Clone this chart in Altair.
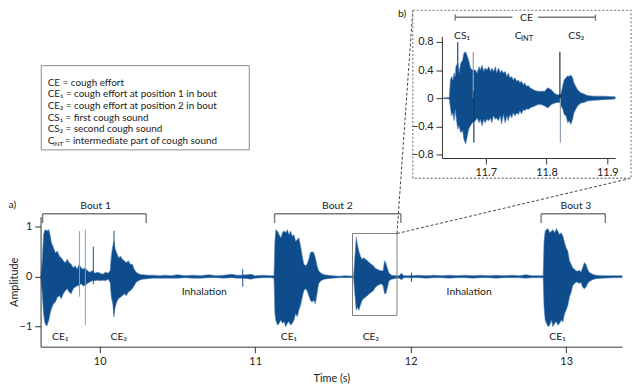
import altair as alt
import pandas as pd

FONT = "Lato"
DARK = "#0e4c8c"
LIGHT = "#7fa3c8"
AX = "#333333"
GRAY = "#7a7a7a"
TXT = "#222222"

wave_t = [9.622, 9.631, 9.639, 9.648, 9.660, 9.673, 9.681, 9.690, 9.703, 9.715, 9.728, 9.741, 9.753,
          9.766, 9.779, 9.791, 9.804, 9.817, 9.830, 9.842, 9.855, 9.868, 9.880, 9.893, 9.906, 9.918,
          9.935, 9.952, 9.969, 9.987, 10.003, 10.020, 10.037, 10.054, 10.067, 10.075, 10.084, 10.092,
          10.100, 10.109, 10.121, 10.134, 10.146, 10.159, 10.171, 10.184, 10.197, 10.210, 10.222,
          10.235, 10.256, 10.277, 10.310, 10.342, 10.388,
          10.42, 10.46, 10.50, 10.55, 10.60, 10.65, 10.70, 10.75, 10.80, 10.85, 10.88, 10.91, 10.95,
          10.972, 11.00, 11.05, 11.10, 11.121,
          11.127, 11.133, 11.144, 11.154, 11.165, 11.176, 11.186, 11.197, 11.207, 11.218, 11.228,
          11.239, 11.250, 11.260, 11.271, 11.281, 11.292, 11.303, 11.313, 11.324, 11.334, 11.345,
          11.355, 11.366, 11.377, 11.387, 11.398, 11.408, 11.423, 11.444, 11.466, 11.497, 11.540,
          11.580, 11.633,
          11.641, 11.650, 11.658, 11.667, 11.677, 11.688, 11.698, 11.709, 11.722, 11.734, 11.747,
          11.760, 11.772, 11.785, 11.798, 11.810, 11.823, 11.832, 11.840, 11.849, 11.861, 11.878,
          11.910,
          11.925, 11.942, 11.955, 12.00, 12.05, 12.10, 12.15, 12.20, 12.25, 12.30, 12.35, 12.40,
          12.45, 12.50, 12.55, 12.60, 12.65, 12.70, 12.74, 12.78, 12.82, 12.852,
          12.858, 12.865, 12.873, 12.884, 12.894, 12.905, 12.915, 12.926, 12.937, 12.947, 12.958,
          12.968, 12.979, 12.990, 13.000, 13.011, 13.021, 13.032, 13.042, 13.053, 13.064, 13.074,
          13.085, 13.095, 13.106, 13.117, 13.127, 13.138, 13.148, 13.169, 13.191, 13.233, 13.30, 13.36]
wave_hi = [0.02, 0.32, 0.84, 0.94, 0.92, 0.94, 0.84, 0.68, 0.58, 0.48, 0.51, 0.41, 0.38,
           0.32, 0.28, 0.35, 0.28, 0.25, 0.18, 0.22, 0.15, 0.25, 0.18, 0.15, 0.18, 0.13,
           0.09, 0.12, 0.07, 0.09, 0.07, 0.05, 0.09, 0.07, 0.12, 0.41, 0.61, 0.71,
           0.55, 0.48, 0.38, 0.41, 0.35, 0.32, 0.28, 0.32, 0.25, 0.25, 0.15,
           0.09, 0.05, 0.04, 0.03, 0.03, 0.02,
           0.03, 0.02, 0.04, 0.02, 0.03, 0.02, 0.04, 0.02, 0.03, 0.05, 0.03, 0.03, 0.04,
           0.05, 0.02, 0.03, 0.02, 0.02,
           0.71, 0.94, 0.91, 0.84, 0.78, 0.88, 0.92, 0.88, 0.94, 0.84, 0.91,
           0.81, 0.84, 0.71, 0.74, 0.78, 0.61, 0.41, 0.25, 0.22, 0.25, 0.35,
           0.48, 0.50, 0.48, 0.38, 0.22, 0.12, 0.07, 0.04, 0.03, 0.02, 0.01,
           0.02, 0.01,
           0.38, 0.79, 0.64, 0.51, 0.41, 0.35, 0.38, 0.35, 0.32, 0.28, 0.25,
           0.22, 0.17, 0.15, 0.13, 0.12, 0.12, 0.32, 0.28, 0.18, 0.07, 0.03,
           0.02,
           0.02, 0.07, 0.02, 0.02, 0.03, 0.02, 0.03, 0.02, 0.03, 0.02, 0.03, 0.02,
           0.03, 0.02, 0.03, 0.02, 0.03, 0.02, 0.04, 0.02, 0.02, 0.02,
           0.71, 0.91, 0.94, 0.96, 0.88, 0.91, 0.94, 0.88, 0.96, 0.91, 0.84,
           0.88, 0.81, 0.68, 0.58, 0.51, 0.32, 0.25, 0.18, 0.15, 0.12, 0.11,
           0.13, 0.09, 0.18, 0.28, 0.25, 0.15, 0.09, 0.05, 0.03, 0.02, 0.02, 0.02]
wave_lo = [-0.02, -0.34, -0.74, -0.93, -0.99, -0.87, -0.74, -0.64, -0.54, -0.51, -0.41, -0.38, -0.44,
           -0.34, -0.28, -0.24, -0.31, -0.34, -0.24, -0.21, -0.18, -0.18, -0.14, -0.18, -0.18, -0.14,
           -0.11, -0.08, -0.08, -0.07, -0.08, -0.07, -0.08, -0.05, -0.11, -0.41, -0.54, -0.74,
           -0.61, -0.51, -0.44, -0.41, -0.38, -0.34, -0.38, -0.31, -0.28, -0.24, -0.18,
           -0.11, -0.07, -0.05, -0.04, -0.03, -0.03,
           -0.03, -0.03, -0.03, -0.02, -0.03, -0.03, -0.02, -0.02, -0.03, -0.02, -0.03, -0.03, -0.04,
           -0.05, -0.03, -0.02, -0.02, -0.03,
           -0.74, -0.87, -0.97, -0.93, -0.87, -0.93, -0.90, -1.00, -0.93, -0.90, -0.97,
           -0.93, -0.87, -0.74, -0.80, -0.67, -0.57, -0.41, -0.28, -0.24, -0.28, -0.38,
           -0.47, -0.51, -0.47, -0.54, -0.34, -0.14, -0.08, -0.05, -0.04, -0.03, -0.02,
           -0.02, -0.02,
           -0.34, -0.67, -0.61, -0.67, -0.57, -0.47, -0.44, -0.41, -0.38, -0.34, -0.31,
           -0.28, -0.22, -0.18, -0.16, -0.14, -0.18, -0.34, -0.34, -0.24, -0.08, -0.05,
           -0.03,
           -0.03, -0.06, -0.02, -0.02, -0.02, -0.03, -0.02, -0.02, -0.03, -0.02, -0.02, -0.03,
           -0.02, -0.02, -0.03, -0.02, -0.02, -0.02, -0.03, -0.02, -0.02, -0.02,
           -0.61, -0.87, -0.93, -1.00, -0.97, -0.87, -1.00, -0.93, -0.90, -0.97, -0.93,
           -0.87, -0.90, -0.74, -0.67, -0.57, -0.41, -0.31, -0.18, -0.14, -0.11, -0.11,
           -0.14, -0.11, -0.21, -0.24, -0.21, -0.14, -0.10, -0.06, -0.04, -0.03, -0.02, -0.02]

spike_t = [9.870, 9.908, 9.959, 10.092, 10.920, 12.005]
spike_top = [0.91, 0.94, 0.60, 0.92, 0.15, 0.08]
spike_bot = [-0.40, -0.97, -0.15, -0.80, -0.20, -0.10]
spike_col = [LIGHT, LIGHT, DARK, DARK, DARK, DARK]

ins_t = [11.628, 11.640, 11.642, 11.644, 11.646, 11.648, 11.650, 11.651, 11.654, 11.656, 11.659,
         11.662, 11.664, 11.667, 11.670, 11.672, 11.675, 11.678, 11.683, 11.686, 11.689, 11.691,
         11.694, 11.697, 11.699, 11.702, 11.705, 11.708, 11.710, 11.713, 11.716, 11.718, 11.721,
         11.724, 11.726, 11.729, 11.732, 11.735, 11.737, 11.740, 11.743, 11.745, 11.748, 11.751,
         11.754, 11.756, 11.759, 11.762, 11.764, 11.767, 11.770, 11.773, 11.775, 11.781, 11.786,
         11.791, 11.797, 11.802, 11.808, 11.813, 11.818, 11.822, 11.824, 11.827, 11.829, 11.832,
         11.835, 11.837, 11.840, 11.843, 11.845, 11.848, 11.851, 11.856, 11.862, 11.867, 11.878,
         11.894, 11.913]
ins_hi = [0.005, 0.01, 0.26, 0.31, 0.26, 0.36, 0.31, 0.45, 0.50, 0.36, 0.50,
          0.54, 0.64, 0.66, 0.59, 0.54, 0.43, 0.40, 0.40, 0.36, 0.45, 0.40,
          0.47, 0.38, 0.43, 0.40, 0.45, 0.38, 0.43, 0.38, 0.45, 0.36, 0.43,
          0.36, 0.40, 0.36, 0.38, 0.31, 0.36, 0.29, 0.31, 0.26, 0.29, 0.24,
          0.26, 0.22, 0.24, 0.19, 0.22, 0.17, 0.18, 0.15, 0.14, 0.11, 0.10,
          0.10, 0.10, 0.15, 0.12, 0.07, 0.05, 0.05, 0.07, 0.19, 0.26, 0.29,
          0.32, 0.31, 0.33, 0.29, 0.22, 0.17, 0.12, 0.08, 0.06, 0.04, 0.03,
          0.03, 0.02]
ins_lo = [-0.005, -0.01, -0.14, -0.25, -0.21, -0.32, -0.16, -0.25, -0.44, -0.39, -0.49,
          -0.46, -0.58, -0.65, -0.53, -0.44, -0.39, -0.35, -0.32, -0.28, -0.35, -0.30,
          -0.39, -0.30, -0.35, -0.30, -0.32, -0.28, -0.35, -0.25, -0.30, -0.28, -0.32,
          -0.25, -0.37, -0.23, -0.35, -0.25, -0.32, -0.23, -0.28, -0.21, -0.25, -0.21,
          -0.23, -0.18, -0.22, -0.16, -0.18, -0.15, -0.16, -0.14, -0.13, -0.11, -0.09,
          -0.09, -0.11, -0.14, -0.09, -0.07, -0.06, -0.06, -0.11, -0.16, -0.23, -0.25,
          -0.35, -0.32, -0.37, -0.30, -0.21, -0.16, -0.11, -0.07, -0.06, -0.04, -0.03,
          -0.02, -0.01]
ins_spike_t = [11.654, 11.6795, 11.6805, 11.8220, 11.8228]
ins_spike_top = [0.80, 0.66, 0.10, 0.66, 0.00]
ins_spike_bot = [-0.30, 0.00, -0.63, 0.00, -0.63]
ins_spike_col = [DARK, "#8f9db0", "#1b3a5c", "#1b2f45", "#8f9db0"]

br_x1 = [9.633, 9.633, 10.299, 11.125, 11.125, 11.937, 12.839, 12.839, 13.252]
br_x2 = [10.299, 9.633, 10.299, 11.937, 11.125, 11.937, 13.252, 12.839, 13.252]
br_y1 = [1.258, 1.258, 1.258, 1.258, 1.258, 1.258, 1.258, 1.258, 1.258]
br_y2 = [1.258, 1.075, 1.075, 1.258, 1.075, 1.075, 1.258, 1.075, 1.075]

lab_t = [9.974, 11.529, 13.063, 10.673, 12.376, 9.746, 10.123, 11.217, 11.744, 12.944]
lab_a = [1.356, 1.356, 1.356, -0.361, -0.361, -1.276, -1.276, -1.276, -1.276, -1.276]
lab_text = ["Bout 1", "Bout 2", "Bout 3", "Inhalation", "Inhalation",
            "CE₁", "CE₂", "CE₁", "CE₂", "CE₁"]

zoom_rect = [11.626, 11.912, 0.863, -0.776]
inset_box = [12.0137, 13.4171, 5.325, 1.968]
conn_x1 = [11.912, 11.912]
conn_y1 = [0.863, 0.863]
conn_x2 = [12.0137, 13.4171]
conn_y2 = [5.325, 1.968]

legend_box = [9.6244, 10.9622, 4.219, 2.535]
leg_t = [9.6663, 9.6663, 9.6663, 9.6663, 9.6663, 9.6663, 9.7755]
leg_a = [3.818, 3.585, 3.352, 3.119, 2.886, 2.653, 2.653]
leg_text = ["CE = cough effort",
            "CE₁ = cough effort at position 1 in bout",
            "CE₂ = cough effort at position 2 in bout",
            "CS₁ = first cough sound",
            "CS₂ = second cough sound",
            "C",
            "= intermediate part of cough sound"]
leg_sub_t = [9.6994]
leg_sub_a = [2.610]
leg_sub_text = ["INT"]

panel_t = [9.4137]
panel_a = [1.376]
panel_text = ["a)"]

ibr_x1 = [11.6499, 11.786, 11.6499, 11.8805]
ibr_x2 = [11.7439, 11.8805, 11.6499, 11.8805]
ibr_y1 = [1.152, 1.152, 1.19, 1.19]
ibr_y2 = [1.152, 1.152, 1.105, 1.105]
ilab_t = [11.767, 11.661, 11.7536, 11.849]
ilab_a = [1.105, 0.847, 0.847, 0.847]
ilab_text = ["CE", "CS₁", "C", "CS₂"]
isub_t = [11.758]
isub_a = [0.815]
isub_text = ["INT"]
ipanel_t = [11.5559]
ipanel_a = [1.152]
ipanel_text = ["b)"]

XM = alt.Scale(domain=[9.62, 13.36], nice=False, zero=False)
YM = alt.Scale(domain=[-1.4, 1.2], nice=False, zero=False)
XI = alt.Scale(domain=[11.628, 11.913], range=[406.5, 582], nice=False, zero=False)
YI = alt.Scale(domain=[-0.85, 0.88], range=[-59.4, -182.6], nice=False, zero=False)

axis_style = dict(grid=False, domainColor=AX, tickColor=AX, labelColor=TXT, titleColor=TXT,
                  labelFont=FONT, titleFont=FONT, labelFontSize=11, titleFontSize=11,
                  titleFontWeight="normal", tickSize=6, labelPadding=3, zindex=1)


def mx(f):
    return alt.X(f, type="quantitative", scale=XM, axis=None)


def my(f):
    return alt.Y(f, type="quantitative", scale=YM, axis=None)


def ix(f):
    return alt.X(f, type="quantitative", scale=XI, axis=None)


def iy(f):
    return alt.Y(f, type="quantitative", scale=YI, axis=None)


wave = alt.Chart(pd.DataFrame({"t": wave_t, "hi": wave_hi, "lo": wave_lo})).mark_area(
    color=DARK, interpolate="linear", stroke="#4f82b8", strokeWidth=0.6).encode(
    x=alt.X("t:Q", scale=XM, axis=alt.Axis(orient="bottom", values=[10, 11, 12, 13],
                                            title="Time (s)", titlePadding=6, **axis_style)),
    y=alt.Y("hi:Q", scale=YM, axis=alt.Axis(orient="left", values=[-1, 0, 1],
                                             title="Amplitude", titleX=-26, titleY=66,
                                             titleAngle=270, titleAlign="center",
                                             titleBaseline="middle", **axis_style)),
    y2="lo:Q")

spikes = alt.Chart(pd.DataFrame({"t": spike_t, "top": spike_top, "bot": spike_bot, "c": spike_col})
                   ).mark_rule(strokeWidth=1).encode(
    x=mx("t"), y=my("top"), y2="bot:Q", color=alt.Color("c:N", scale=None))

brackets = alt.Chart(pd.DataFrame({"x1": br_x1, "x2": br_x2, "y1": br_y1, "y2": br_y2})).mark_rule(
    color=GRAY, strokeWidth=1.4).encode(x=mx("x1"), x2="x2:Q", y=my("y1"), y2="y2:Q")

labels = alt.Chart(pd.DataFrame({"t": lab_t, "a": lab_a, "s": lab_text})).mark_text(
    font=FONT, fontSize=10.5, color=TXT, align="center", baseline="alphabetic").encode(
    x=mx("t"), y=my("a"), text="s:N")

zrect = alt.Chart(pd.DataFrame({"x1": [zoom_rect[0]], "x2": [zoom_rect[1]], "y1": [zoom_rect[2]],
                                "y2": [zoom_rect[3]]})).mark_rect(
    fillOpacity=0, stroke="#7f7f7f", strokeWidth=1).encode(x=mx("x1"), x2="x2:Q", y=my("y1"), y2="y2:Q")

ibox = alt.Chart(pd.DataFrame({"x1": [inset_box[0]], "x2": [inset_box[1]], "y1": [inset_box[2]],
                               "y2": [inset_box[3]]})).mark_rect(
    fillOpacity=0, stroke="#8a8a8a", strokeWidth=1.3, strokeDash=[2, 2]).encode(
    x=mx("x1"), x2="x2:Q", y=my("y1"), y2="y2:Q")

conns = alt.Chart(pd.DataFrame({"x1": conn_x1, "x2": conn_x2, "y1": conn_y1, "y2": conn_y2})).mark_rule(
    color="#444444", strokeWidth=1, strokeDash=[3, 2]).encode(x=mx("x1"), x2="x2:Q", y=my("y1"), y2="y2:Q")

lbox = alt.Chart(pd.DataFrame({"x1": [legend_box[0]], "x2": [legend_box[1]], "y1": [legend_box[2]],
                               "y2": [legend_box[3]]})).mark_rect(
    fill="white", stroke="#8a8a8a", strokeWidth=1).encode(x=mx("x1"), x2="x2:Q", y=my("y1"), y2="y2:Q")

ltext = alt.Chart(pd.DataFrame({"t": leg_t, "a": leg_a, "s": leg_text})).mark_text(
    font=FONT, fontSize=10, color=TXT, align="left", baseline="alphabetic").encode(
    x=mx("t"), y=my("a"), text="s:N")

lsub = alt.Chart(pd.DataFrame({"t": leg_sub_t, "a": leg_sub_a, "s": leg_sub_text})).mark_text(
    font=FONT, fontSize=6.5, color=TXT, align="left", baseline="alphabetic").encode(
    x=mx("t"), y=my("a"), text="s:N")

ptext = alt.Chart(pd.DataFrame({"t": panel_t, "a": panel_a, "s": panel_text})).mark_text(
    font=FONT, fontSize=10.5, color=TXT, align="left", baseline="alphabetic").encode(
    x=mx("t"), y=my("a"), text="s:N")

iwave = alt.Chart(pd.DataFrame({"t": ins_t, "hi": ins_hi, "lo": ins_lo})).mark_area(
    color=DARK, interpolate="linear", stroke="#4f82b8", strokeWidth=0.6).encode(
    x=alt.X("t:Q", scale=XI, axis=alt.Axis(orient="bottom", offset=-191.1, values=[11.7, 11.8, 11.9],
                                            title=None, **axis_style)),
    y=alt.Y("hi:Q", scale=YI, axis=alt.Axis(orient="left", offset=-406.5,
                                             values=[-0.8, -0.4, 0, 0.4, 0.8], format="~g",
                                             title=None, **axis_style)),
    y2="lo:Q")

ispikes = alt.Chart(pd.DataFrame({"t": ins_spike_t, "top": ins_spike_top, "bot": ins_spike_bot,
                                  "c": ins_spike_col})).mark_rule(strokeWidth=1.2).encode(
    x=ix("t"), y=iy("top"), y2="bot:Q", color=alt.Color("c:N", scale=None))

ibr = alt.Chart(pd.DataFrame({"x1": ibr_x1, "x2": ibr_x2, "y1": ibr_y1, "y2": ibr_y2})).mark_rule(
    color=GRAY, strokeWidth=1.4).encode(x=ix("x1"), x2="x2:Q", y=iy("y1"), y2="y2:Q")

ilab = alt.Chart(pd.DataFrame({"t": ilab_t, "a": ilab_a, "s": ilab_text})).mark_text(
    font=FONT, fontSize=10.5, color=TXT, align="center", baseline="alphabetic").encode(
    x=ix("t"), y=iy("a"), text="s:N")

isub = alt.Chart(pd.DataFrame({"t": isub_t, "a": isub_a, "s": isub_text})).mark_text(
    font=FONT, fontSize=7.5, color=TXT, align="left", baseline="alphabetic").encode(
    x=ix("t"), y=iy("a"), text="s:N")

ipanel = alt.Chart(pd.DataFrame({"t": ipanel_t, "a": ipanel_a, "s": ipanel_text})).mark_text(
    font=FONT, fontSize=10.5, color=TXT, align="left", baseline="alphabetic").encode(
    x=ix("t"), y=iy("a"), text="s:N")

chart = alt.layer(lbox, ltext, lsub, ptext, wave, spikes, brackets, labels, zrect, conns, ibox,
                  iwave, ispikes, ibr, ilab, isub, ipanel).resolve_scale(
    x="independent", y="independent").properties(
    width=589, height=131.7,
    padding={"left": 33, "top": 208.9, "right": 10, "bottom": 38.4},
    autosize=alt.AutoSizeParams(type="none"),
    background="white").configure_view(stroke="transparent")

chart.save("out.html", embed_options={"renderer": "svg", "actions": False})
